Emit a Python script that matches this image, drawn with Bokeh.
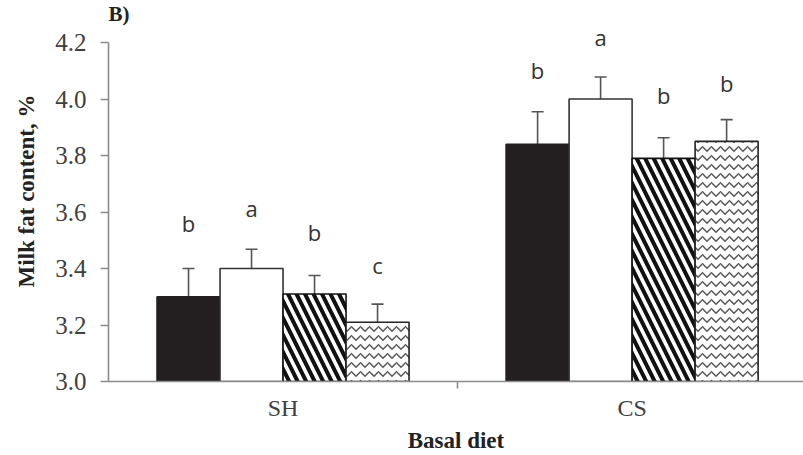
from bokeh.plotting import figure
from bokeh.models import (Range1d, FixedTicker, LinearAxis, Whisker, ColumnDataSource,
                          PrintfTickFormatter, TeeHead, Label)
from bokeh.core.properties import value
from bokeh.embed import file_html
from bokeh.resources import INLINE

# ---- data ----
categories = ["SH", "CS"]
treatments = ["T1", "T2", "T3", "T4"]
means_SH = [3.30, 3.40, 3.31, 3.21]
means_CS = [3.84, 4.00, 3.79, 3.85]
err_SH = [0.100, 0.068, 0.065, 0.064]
err_CS = [0.115, 0.078, 0.073, 0.077]
letters_SH = ["b", "a", "b", "c"]
letters_CS = ["b", "a", "b", "b"]
letter_y_SH = [3.528, 3.584, 3.497, 3.379]
letter_y_CS = [4.072, 4.189, 3.981, 4.024]
y_ticks = [3.0, 3.2, 3.4, 3.6, 3.8, 4.0, 4.2]
y_axis_min, y_axis_max = 3.0, 4.2

SERIF = "Liberation Serif"
SANS = "Open Sans"

# frame extends above the axis top so that letters/panel label are not clipped
y_top = y_axis_max + 42 / 282.5
p = figure(width=803, height=455, output_backend="svg", toolbar_location=None,
           x_range=Range1d(0, 1.991), y_range=Range1d(y_axis_min, y_top),
           min_border_left=108, min_border_right=0, min_border_top=0,
           min_border_bottom=74)
p.grid.visible = False
p.outline_line_color = None
p.background_fill_color = "white"
p.border_fill_color = "white"

# panel label "B)"
panel = Label(x=p.x_range.start, y=p.y_range.end, text="B)",
              text_font=SERIF, text_font_style="bold", text_font_size="21px",
              text_color="#222222", text_baseline="top", text_align="left",
              y_offset=-1)
p.add_layout(panel)

# bars
bar_w = 0.1805
fills = ["#231f20", "white", "white", "white"]
hatches = [" ", " ", "left_diagonal_line", "horizontal_wave"]
hatch_colors = ["black", "black", "#111111", "#555555"]
hatch_weights = [1, 1, 4.0, 1.5]
hatch_scales = [12, 12, 17, 9]
line_colors = ["#231f20", "#333333", "#111111", "#222222"]

all_means = [means_SH, means_CS]
all_errs = [err_SH, err_CS]
all_letters = [letters_SH, letters_CS]
all_letter_y = [letter_y_SH, letter_y_CS]

for j in range(len(treatments)):
    xs = [i + 0.5 + (j - 1.5) * bar_w for i in range(len(categories))]
    tops = [all_means[i][j] for i in range(len(categories))]
    p.vbar(x=xs, top=tops, bottom=y_axis_min, width=bar_w, fill_color=fills[j],
           line_color=line_colors[j], line_width=1.6,
           hatch_pattern=hatches[j], hatch_color=hatch_colors[j],
           hatch_weight=hatch_weights[j], hatch_scale=hatch_scales[j])

# error bars
ex, eu, el = [], [], []
lx, ly, lt = [], [], []
for i in range(len(categories)):
    for j in range(len(treatments)):
        x = i + 0.5 + (j - 1.5) * bar_w
        ex.append(x)
        eu.append(all_means[i][j] + all_errs[i][j])
        el.append(all_means[i][j] - all_errs[i][j])
        lx.append(x)
        ly.append(all_letter_y[i][j])
        lt.append(all_letters[i][j])

esrc = ColumnDataSource(dict(x=ex, upper=eu, lower=el))
w = Whisker(base="x", upper="upper", lower="lower", source=esrc,
            line_color="#555555", line_width=1.6,
            upper_head=TeeHead(size=12, line_color="#555555", line_width=1.6),
            lower_head=TeeHead(size=12, line_color="#555555", line_width=1.6))
p.add_layout(w)

p.text(x=lx, y=ly, text=lt, text_align="center", text_baseline="alphabetic",
       y_offset=-9, text_font=value(SANS), text_font_size="22px", text_color="#333333")

# y axis
ya = p.yaxis[0]
ya.bounds = (y_axis_min, y_axis_max)
ya.ticker = FixedTicker(ticks=y_ticks)
ya.formatter = PrintfTickFormatter(format="%.1f")
ya.axis_line_color = "#8c8c8c"
ya.axis_line_width = 1.6
ya.major_tick_line_color = "#8c8c8c"
ya.major_tick_line_width = 1.6
ya.major_tick_in = 0
ya.major_tick_out = 8
ya.minor_tick_line_color = None
ya.major_label_text_font = SERIF
ya.major_label_text_font_size = "25px"
ya.major_label_text_color = "#404040"
ya.major_label_standoff = 14
ya.axis_label = "Milk fat content, %"
ya.axis_label_text_font = SERIF
ya.axis_label_text_font_style = "bold"
ya.axis_label_text_font_size = "23px"
ya.axis_label_text_color = "#222222"
ya.axis_label_standoff = 13

# x axis 1: line + divider tick
xa = p.xaxis[0]
xa.ticker = FixedTicker(ticks=[i + 1.0 for i in range(len(categories) - 1)])
xa.axis_line_color = "#8c8c8c"
xa.axis_line_width = 1.6
xa.major_tick_line_color = "#8c8c8c"
xa.major_tick_line_width = 1.6
xa.major_tick_in = 0
xa.major_tick_out = 7
xa.minor_tick_line_color = None
xa.major_label_text_font_size = "1px"
xa.major_label_text_alpha = 0
xa.major_label_standoff = 0

# x axis 2: category labels
xa2 = LinearAxis(ticker=FixedTicker(ticks=[i + 0.5 for i in range(len(categories))]),
                 major_label_overrides={i + 0.5: c for i, c in enumerate(categories)})
xa2.axis_line_color = None
xa2.major_tick_line_color = None
xa2.minor_tick_line_color = None
xa2.major_label_text_font = SERIF
xa2.major_label_text_font_size = "24px"
xa2.major_label_text_color = "#404040"
xa2.major_label_standoff = 0
xa2.axis_label = "Basal diet"
xa2.axis_label_text_font = SERIF
xa2.axis_label_text_font_style = "bold"
xa2.axis_label_text_font_size = "23px"
xa2.axis_label_text_color = "#222222"
xa2.axis_label_standoff = 4
p.add_layout(xa2, "below")

open("out.html", "w").write(file_html(p, INLINE))
